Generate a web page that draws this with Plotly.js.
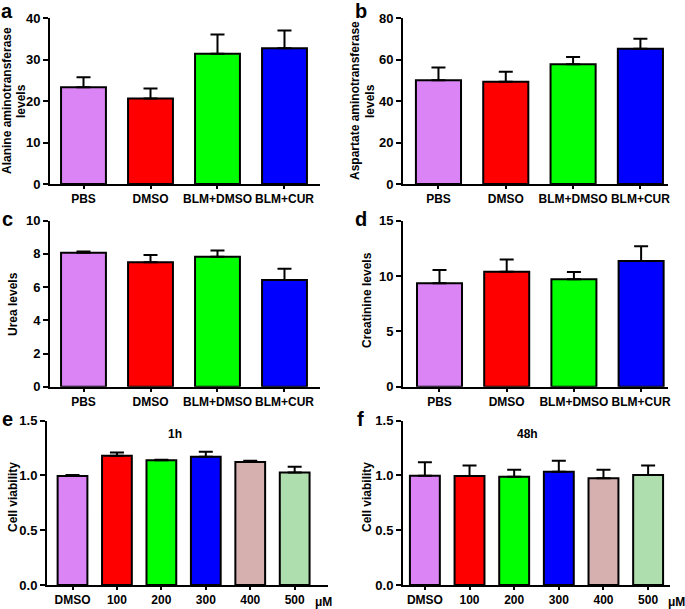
<!DOCTYPE html>
<html>
<head>
<meta charset="utf-8">
<script src="https://cdn.plot.ly/plotly-3.0.1.min.js"></script>
<style>html,body{margin:0;padding:0;background:#fff;}#chart{width:685px;height:609px;}</style>
</head>
<body>
<div id="chart"></div>
<script>
// ---- data ----
var groupCats = ["PBS", "DMSO", "BLM+DMSO", "BLM+CUR"];
var doseCats = ["DMSO", "100", "200", "300", "400", "500"];

var altValues = [23.3, 20.6, 31.4, 32.7];
var altErr = [2.4, 2.4, 4.6, 4.3];
var astValues = [50.0, 49.3, 57.7, 65.2];
var astErr = [6.2, 4.8, 3.5, 4.8];
var ureaValues = [8.07, 7.5, 7.83, 6.43];
var ureaErr = [0.08, 0.43, 0.37, 0.67];
var creaValues = [9.34, 10.39, 9.70, 11.36];
var creaErr = [1.2, 1.11, 0.66, 1.34];
var via1hValues = [0.995, 1.18, 1.138, 1.171, 1.123, 1.028];
var via1hErr = [0.009, 0.03, 0.006, 0.046, 0.012, 0.052];
var via48hValues = [0.998, 0.995, 0.989, 1.034, 0.974, 1.004];
var via48hErr = [0.122, 0.097, 0.064, 0.101, 0.079, 0.088];

var groupColors = ["#DA84F5", "#FF0000", "#00FF00", "#0000FF"];
var doseColors = ["#DA84F5", "#FF0000", "#00FF00", "#0000FF", "#D6AFAF", "#AEDDAE"];

// ---- helpers ----
var W = 685, H = 609;
function xd(a, b) { return [a / W, b / W]; }
function yd(top, bot) { return [1 - bot / H, 1 - top / H]; }
var FONT = "Liberation Sans, Arial, sans-serif";

function barTrace(cats, vals, errs, colors, n) {
  return {
    type: "bar",
    x: cats,
    y: vals,
    xaxis: "x" + (n === 1 ? "" : n),
    yaxis: "y" + (n === 1 ? "" : n),
    marker: { color: colors, line: { color: "#000", width: 2 } },
    error_y: {
      type: "data", symmetric: false, array: errs,
      arrayminus: errs.map(function () { return 0; }),
      color: "#000", thickness: 2, width: 7
    },
    hoverinfo: "none"
  };
}

var data = [
  barTrace(groupCats, altValues, altErr, groupColors, 1),
  barTrace(groupCats, astValues, astErr, groupColors, 2),
  barTrace(groupCats, ureaValues, ureaErr, groupColors, 3),
  barTrace(groupCats, creaValues, creaErr, groupColors, 4),
  barTrace(doseCats, via1hValues, via1hErr, doseColors, 5),
  barTrace(doseCats, via48hValues, via48hErr, doseColors, 6)
];

function xAxis(dom, range, anchor) {
  return {
    domain: dom, range: range, anchor: anchor, type: "category",
    showline: true, linecolor: "#000", linewidth: 2,
    ticks: "outside", ticklen: 3, tickwidth: 2, tickcolor: "#000",
    showgrid: false, zeroline: false, fixedrange: true,
    tickfont: { family: FONT, size: 12, color: "#000", weight: "bold" }
  };
}
function yAxis(dom, range, dtick, anchor, fmt) {
  return {
    domain: dom, range: range, dtick: dtick, tick0: 0, anchor: anchor,
    showline: true, linecolor: "#000", linewidth: 2,
    ticks: "outside", ticklen: 5, tickwidth: 2, tickcolor: "#000",
    showgrid: false, zeroline: false, fixedrange: true,
    tickformat: fmt || "",
    tickfont: { family: FONT, size: 13, color: "#000", weight: "bold" }
  };
}

var rowA = yd(18, 184), rowC = yd(220.7, 386.7), rowE = yd(420.7, 585);

function ann(text, x, y, size, angle) {
  return {
    text: text, x: x / W, y: 1 - y / H, xref: "paper", yref: "paper",
    showarrow: false, xanchor: "center", yanchor: "middle",
    font: { family: FONT, size: size, color: "#000", weight: "bold" },
    textangle: angle || 0
  };
}

var layout = {
  width: W, height: H,
  margin: { l: 0, r: 0, t: 0, b: 0 },
  paper_bgcolor: "#fff", plot_bgcolor: "rgba(0,0,0,0)",
  showlegend: false,
  bargap: 0.33,
  xaxis: xAxis(xd(50, 320), [-0.5, 3.53], "y"),
  yaxis: yAxis(rowA, [0, 40], 10, "x"),
  xaxis2: xAxis(xd(403, 668), [-0.527, 3.41], "y2"),
  yaxis2: yAxis(rowA, [0, 80], 20, "x2"),
  xaxis3: xAxis(xd(50, 320), [-0.5, 3.53], "y3"),
  yaxis3: yAxis(rowC, [0, 10], 2, "x3"),
  xaxis4: xAxis(xd(403, 668), [-0.543, 3.4], "y4"),
  yaxis4: yAxis(rowC, [0, 15], 5, "x4"),
  xaxis5: xAxis(xd(47, 328), [-0.574, 5.75], "y5"),
  yaxis5: yAxis(rowE, [0, 1.5], 0.5, "x5", ".1f"),
  xaxis6: xAxis(xd(403, 670), [-0.49, 5.49], "y6"),
  yaxis6: yAxis(rowE, [0, 1.5], 0.5, "x6", ".1f"),
  annotations: [
    ann("a", 7, 11, 20), ann("b", 361, 11, 20),
    ann("c", 7, 219, 20), ann("d", 361, 219, 20),
    ann("e", 7, 419, 20), ann("f", 360, 419, 20),
    ann("Alanine aminotransferase", 7, 101, 12, -90),
    ann("levels", 21, 101, 12, -90),
    ann("Aspartate aminotransferase", 355, 101, 12, -90),
    ann("levels", 370, 101, 12, -90),
    ann("Urea levels", 13, 304, 12, -90),
    ann("Creatinine levels", 367, 300, 12, -90),
    ann("Cell viability", 13, 497, 12, -90),
    ann("Cell viability", 367, 497, 12, -90),
    ann("1h", 175, 434, 12), ann("48h", 527, 434, 12),
    ann("μM", 323, 602, 12), ann("μM", 676, 602, 12)
  ]
};

Plotly.newPlot("chart", data, layout, { displayModeBar: false, staticPlot: true });
</script>
</body>
</html>
